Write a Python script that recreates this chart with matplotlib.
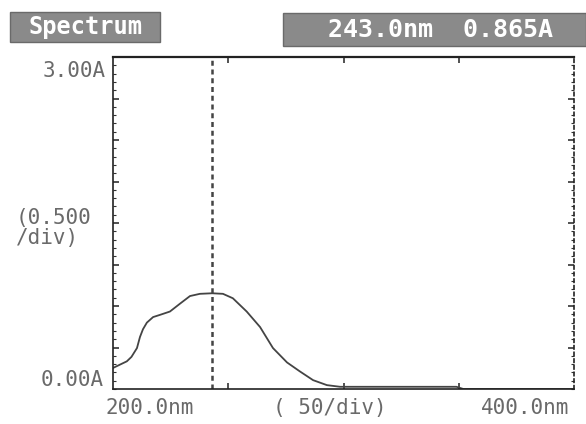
import numpy as np
import matplotlib
matplotlib.use("Agg")
import matplotlib.pyplot as plt
from matplotlib.patches import Rectangle

# Spectrum trace (wavelength in nm, absorbance in A)
wavelength = [200, 203, 206, 208, 210.4, 211.7, 213, 214.7, 217.4, 220.4, 224.7,
              229, 233.4, 237.7, 243, 247.7, 252, 258, 263.8, 269.4, 275.5,
              281, 286.8, 292.8, 298.5, 320, 349, 352, 400]
absorbance = [0.19, 0.22, 0.25, 0.29, 0.37, 0.47, 0.54, 0.60, 0.65, 0.67, 0.70,
              0.77, 0.84, 0.86, 0.865, 0.86, 0.82, 0.70, 0.56, 0.37, 0.24,
              0.16, 0.08, 0.035, 0.02, 0.02, 0.02, 0.0, 0.0]

cursor_nm = 243.0
cursor_abs = 0.865
x_range = [200, 400]
y_range = [0.0, 3.0]
y_labels = ["3.00A", "(0.500\n/div)", "0.00A"]
x_labels = ["200.0nm", "( 50/div)", "400.0nm"]
title_left = "Spectrum"

W, H = 586, 424


def fx(px):
    return px / W


def fy(py):
    return 1 - py / H


def header_box(fig, x0, y0, x1, y1):
    fig.patches.append(Rectangle((fx(x0), fy(y1)), fx(x1) - fx(x0), fy(y0) - fy(y1),
                                 transform=fig.transFigure, facecolor="#8a8a8a",
                                 edgecolor="#6a6a6a", lw=1))


def draw_frame(ax):
    ax.set_xlim(x_range)
    ax.set_ylim(y_range)
    for s in ax.spines.values():
        s.set_color("#222222")
        s.set_linewidth(1.2)
    ax.spines["top"].set_linewidth(1.6)
    ax.spines["right"].set_linestyle((0, (2, 2)))
    ax.spines["left"].set_linestyle((0, (3, 1)))
    ax.set_xticks(np.arange(250, 400, 50))
    ax.set_yticks(np.arange(0.375, 3.0, 0.375))
    ax.set_yticks(np.arange(0, 3.0, 0.075), minor=True)
    ax.tick_params(axis="both", which="both", direction="in", labelleft=False,
                   labelbottom=False, color="#333333", top=True, right=True)
    ax.tick_params(axis="both", which="major", length=4, width=1.2)
    ax.tick_params(axis="y", which="minor", length=2, width=0.8)


def main():
    fig = plt.figure(figsize=(W / 100, H / 100), dpi=100)
    ax = fig.add_axes([fx(113), fy(389), fx(574) - fx(113), fy(57) - fy(389)])
    draw_frame(ax)

    ax.plot(wavelength, absorbance, color="#444444", lw=1.3)
    ax.axvline(cursor_nm, color="#444444", lw=1.8, ls=(0, (2, 1.5)))

    font = dict(family="DejaVu Sans Mono", color="#6a6a6a", fontsize=15)
    fig.text(fx(106), fy(71), y_labels[0], ha="right", va="center", **font)
    fig.text(fx(16), fy(228), y_labels[1], ha="left", va="center",
             linespacing=1.0, **font)
    fig.text(fx(104), fy(380), y_labels[2], ha="right", va="center", **font)
    fig.text(fx(150), fy(408), x_labels[0], ha="center", va="center", **font)
    fig.text(fx(330), fy(408), x_labels[1], ha="center", va="center", **font)
    fig.text(fx(525), fy(408), x_labels[2], ha="center", va="center", **font)

    # grey title bars at the top of the screen
    header_box(fig, 10, 12, 160, 42)
    header_box(fig, 283, 13, 586, 46)
    fig.text(fx(85), fy(27), title_left, ha="center", va="center",
             family="DejaVu Sans Mono", fontsize=17, color="white",
             fontweight="bold")
    header = f"{cursor_nm:.1f}nm  {cursor_abs:.3f}A"
    fig.text(fx(440), fy(30), header, ha="center", va="center",
             family="DejaVu Sans Mono", fontsize=18, color="white",
             fontweight="bold")

    fig.savefig("out.png", dpi=100, facecolor="white")


if __name__ == "__main__":
    main()
